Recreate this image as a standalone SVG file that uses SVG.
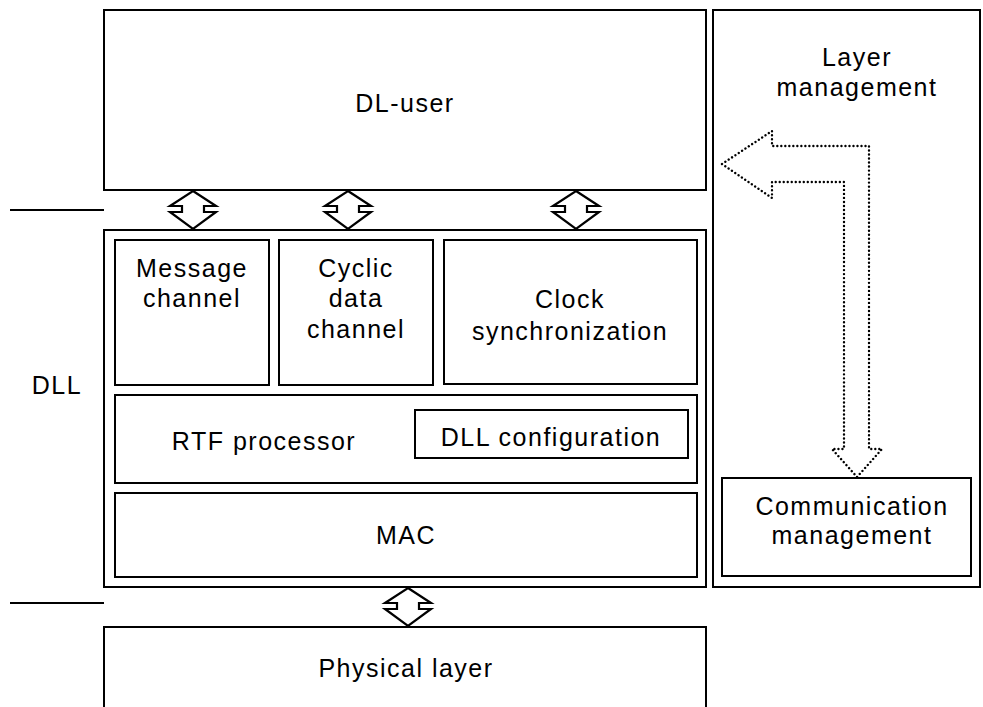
<svg xmlns="http://www.w3.org/2000/svg" width="983" height="707" viewBox="0 0 983 707">
  <style>
    .box { fill: #fff; stroke: #000; stroke-width: 2; }
    .line { stroke: #000; stroke-width: 2; fill: none; }
    .dbl { fill: #fff; stroke: #000; stroke-width: 2.2; stroke-linejoin: miter; }
    .dot { fill: none; stroke: #000; stroke-width: 2.4; stroke-linecap: round; stroke-dasharray: 0.01 4; }
    text { font-family: "Liberation Sans", Arial, sans-serif; font-size: 25px; letter-spacing: 1.5px; fill: #000; text-anchor: middle; }
  </style>
  <defs>
    <!-- double-headed block arrow, apex at origin, 38 tall -->
    <path id="dblArrow" class="dbl" d="M0,0 L23,15 L11,15 L11,21 L23,21 L0,38 L-23,21 L-11,21 L-11,15 L-23,15 Z"/>
  </defs>

  <!-- layer separators -->
  <g id="separators">
    <line class="line" x1="10" y1="210" x2="104" y2="210"/>
    <line class="line" x1="10" y1="603" x2="104" y2="603"/>
  </g>

  <g id="dl-user">
    <rect class="box" x="104" y="10" width="602" height="180"/>
    <text x="405" y="112">DL-user</text>
  </g>

  <g id="layer-management">
    <rect class="box" x="713" y="10" width="267" height="577"/>
    <text x="857" y="66">Layer</text>
    <text x="857" y="96">management</text>
  </g>

  <g id="dll-label">
    <text x="57" y="394">DLL</text>
  </g>

  <g id="dll">
    <rect class="box" x="104" y="230" width="602" height="357"/>
  </g>

  <g id="message-channel">
    <rect class="box" x="115" y="240" width="154" height="145"/>
    <text x="192" y="277">Message</text>
    <text x="192" y="307">channel</text>
  </g>

  <g id="cyclic-data-channel">
    <rect class="box" x="279" y="240" width="154" height="145"/>
    <text x="356" y="277">Cyclic</text>
    <text x="356" y="307">data</text>
    <text x="356" y="338">channel</text>
  </g>

  <g id="clock-synchronization">
    <rect class="box" x="444" y="240" width="253" height="144"/>
    <text x="570" y="308">Clock</text>
    <text x="570" y="340">synchronization</text>
  </g>

  <g id="rtf-processor">
    <rect class="box" x="115" y="395" width="582" height="88"/>
    <text x="264" y="450">RTF processor</text>
  </g>

  <g id="dll-configuration">
    <rect class="box" x="415" y="410" width="273" height="48"/>
    <text x="551" y="446">DLL configuration</text>
  </g>

  <g id="mac">
    <rect class="box" x="115" y="493" width="582" height="84"/>
    <text x="406" y="544">MAC</text>
  </g>

  <g id="communication-management">
    <rect class="box" x="722" y="478" width="249" height="98"/>
    <text x="852" y="515">Communication</text>
    <text x="852" y="544">management</text>
  </g>

  <g id="physical-layer">
    <rect class="box" x="104" y="627" width="602" height="90"/>
    <text x="406" y="677">Physical layer</text>
  </g>

  <g id="connectors">
    <use href="#dblArrow" x="193" y="191"/>
    <use href="#dblArrow" x="348" y="191"/>
    <use href="#dblArrow" x="576" y="191"/>
    <use href="#dblArrow" x="408" y="588"/>
    <!-- management interface arrow -->
    <path class="dot" d="M722,164 L772,131 L772,146 L869,146 L869,449 L882,449 L857,477 L832,449 L844,449 L844,182 L772,182 L772,198 Z"/>
  </g>
</svg>
